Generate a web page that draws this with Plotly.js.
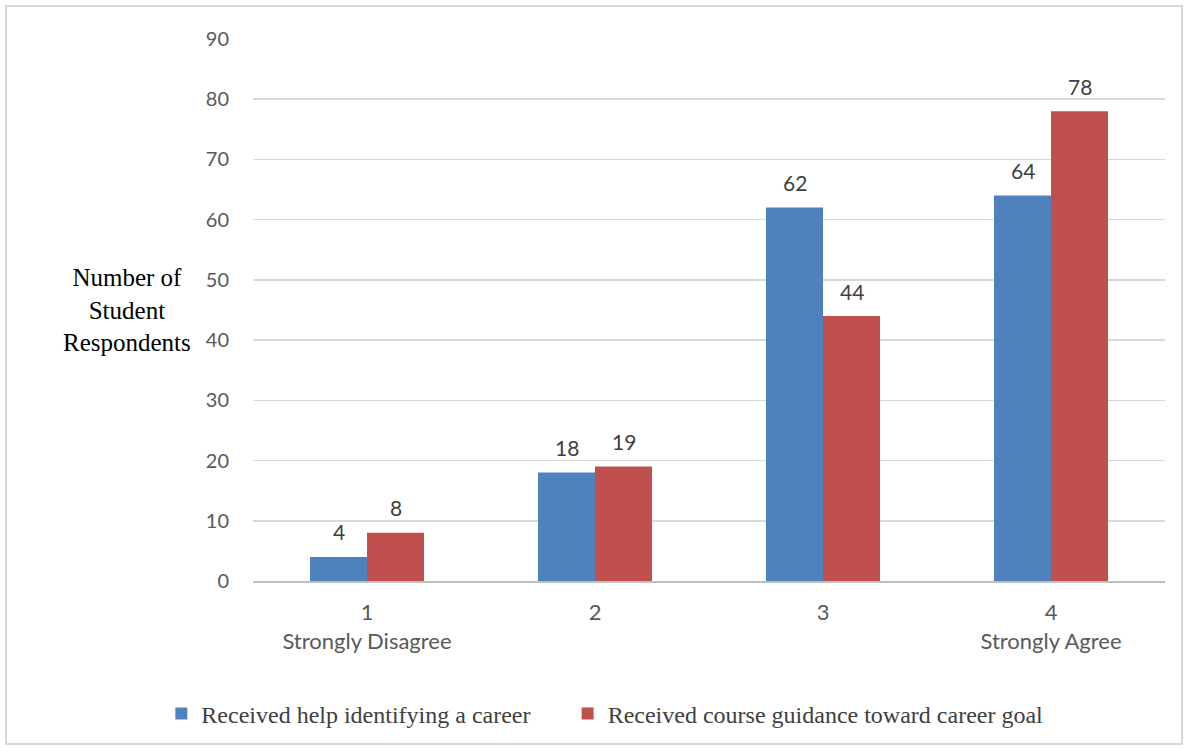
<!DOCTYPE html>
<html>
<head>
<meta charset="utf-8">
<script src="https://cdn.plot.ly/plotly-3.0.1.min.js"></script>
<style>
html,body{margin:0;padding:0;background:#fff;}
#frame{position:absolute;left:5px;top:5px;width:1178px;height:740px;border:2px solid #d9d9d9;box-sizing:border-box;}
#chart{position:absolute;left:0;top:0;width:1189px;height:748px;}
</style>
</head>
<body>
<div id="frame"></div>
<div id="chart"></div>
<script>
const categories = ["1<br>Strongly Disagree", "2", "3", "4<br>Strongly Agree"];
const seriesNames = ["Received help identifying a career", "Received course guidance toward career goal"];
const helpCareer = [4, 18, 62, 64];
const courseGuidance = [8, 19, 44, 78];
const yTicks = [0, 10, 20, 30, 40, 50, 60, 70, 80, 90];

const sansFont = "Lato, sans-serif";
const serifFont = "Liberation Serif, serif";
const labelFont = {family: sansFont, size: 21, color: "#404040"};
const legendFont = {family: serifFont, size: 24, color: "#404040"};

const traces = [
  {type: "bar", name: seriesNames[0], x: categories, y: helpCareer, marker: {color: "#4f81bd"}, legend: "legend"},
  {type: "bar", name: seriesNames[1], x: categories, y: courseGuidance, marker: {color: "#c0504d"}, legend: "legend2"}
];

const valueLabels = [];
[[helpCareer, -28.5], [courseGuidance, 28.5]].forEach(([vals, dx]) => {
  vals.forEach((v, i) => {
    valueLabels.push({x: i, y: v, xref: "x", yref: "y", text: String(v), showarrow: false,
      xanchor: "center", yanchor: "middle", xshift: dx, yshift: 25, font: labelFont});
  });
});

const layout = {
  width: 1189, height: 748,
  margin: {l: 253, r: 24, t: 39, b: 167},
  paper_bgcolor: "rgba(0,0,0,0)", plot_bgcolor: "rgba(0,0,0,0)",
  barmode: "group", bargap: 0.5, bargroupgap: 0,
  showlegend: true,
  legend: {orientation: "h", x: -0.1005, xanchor: "left", y: -0.245, yanchor: "middle",
           font: legendFont, itemwidth: 30},
  legend2: {orientation: "h", x: 0.345, xanchor: "left", y: -0.245, yanchor: "middle",
           font: legendFont, itemwidth: 30},
  xaxis: {type: "category", range: [-0.5, 3.5], showgrid: false, showline: true, linecolor: "#bfbfbf", linewidth: 1.5,
          ticks: "", ticklabelstandoff: 11, tickfont: {family: sansFont, size: 22, color: "#595959"}, fixedrange: true},
  yaxis: {range: [0, 90], tickvals: yTicks, ticktext: yTicks.map(String), showgrid: true, gridcolor: "#d9d9d9", gridwidth: 1.5,
          zeroline: false, showline: false, ticks: "", ticklen: 0, ticklabelstandoff: 23,
          tickfont: {family: sansFont, size: 20, color: "#595959"}},
  annotations: [{
    text: "Number of<br>Student<br>Respondents", xref: "paper", yref: "paper",
    x: -0.138, y: 0.5, xanchor: "center", yanchor: "middle", showarrow: false, align: "center",
    font: {family: serifFont, size: 25, color: "#000000"}
  }].concat(valueLabels)
};

Plotly.newPlot("chart", traces, layout, {displayModeBar: false, staticPlot: true});
</script>
</body>
</html>
